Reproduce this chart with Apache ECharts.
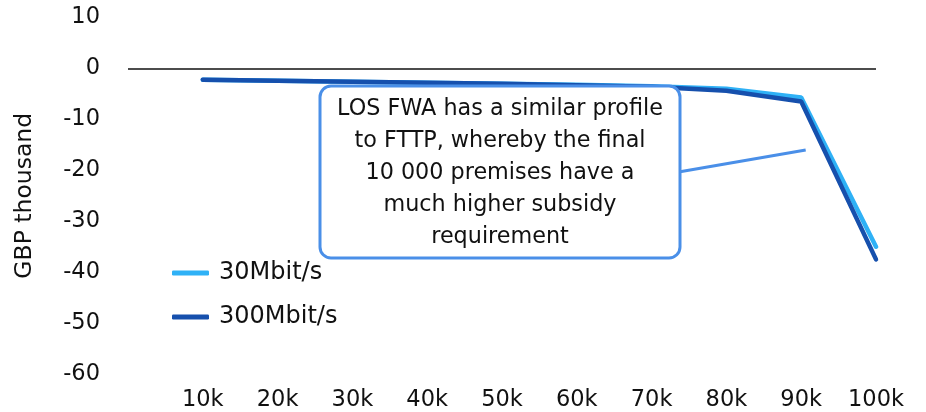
<!DOCTYPE html>
<html>
<head>
<meta charset="utf-8">
<script src="https://cdn.jsdelivr.net/npm/echarts@6/dist/echarts.min.js"></script>
<style>
  html, body { margin: 0; padding: 0; background: #fff; }
  #chart { width: 926px; height: 412px; }
</style>
</head>
<body>
<div id="chart"></div>
<script>
// premises covered (thousands)
const premises = [10, 20, 30, 40, 50, 60, 70, 80, 90, 100];
// subsidy per step, GBP thousand
const fwa30 = [-2.2, -2.4, -2.6, -2.8, -3.0, -3.2, -3.5, -4.0, -5.7, -35.0];
const fwa300 = [-2.2, -2.4, -2.6, -2.8, -3.0, -3.3, -3.6, -4.4, -6.5, -37.5];
const seriesNames = ["30Mbit/s", "300Mbit/s"];
const noteText = "LOS FWA has a similar profile\nto FTTP, whereby the final\n10 000 premises have a\nmuch higher subsidy\nrequirement";

const font = "'DejaVu Sans', sans-serif";
const chart = echarts.init(document.getElementById("chart"));

const toPairs = (vals) => vals.map((v, i) => [premises[i], v]);

const option = {
  backgroundColor: "#fff",
  animation: false,
  grid: { left: 128, right: 50, top: 17.5, bottom: 37.5 },
  legend: {
    orient: "vertical",
    left: 167,
    top: 256,
    itemWidth: 37,
    itemHeight: 5,
    itemGap: 20,
    icon: "roundRect",
    textStyle: { fontFamily: font, fontSize: 24, color: "#111", padding: [0, 0, 0, 5] },
    data: seriesNames,
  },
  xAxis: {
    type: "value",
    min: 0,
    max: 100,
    interval: 10,
    axisLine: { show: false },
    axisTick: { show: false },
    splitLine: { show: false },
    axisLabel: {
      fontFamily: font,
      fontSize: 22.5,
      color: "#111",
      margin: 15,
      formatter: (v) => (v === 0 ? "" : v + "k"),
    },
  },
  yAxis: {
    type: "value",
    min: -60,
    max: 10,
    interval: 10,
    name: "GBP thousand",
    nameLocation: "middle",
    nameGap: 91,
    nameTextStyle: { fontFamily: font, fontSize: 23.5, color: "#111" },
    axisLine: { show: false },
    axisTick: { show: false },
    splitLine: { show: false },
    axisLabel: { fontFamily: font, fontSize: 22.5, color: "#111", margin: 28 },
  },
  series: [
    {
      name: seriesNames[0],
      type: "line",
      data: toPairs(fwa30),
      showSymbol: false,
      color: "#2fb1f6",
      lineStyle: { width: 4.5, cap: "round" },
      markLine: {
        silent: true,
        symbol: "none",
        label: { show: false },
        lineStyle: { color: "#111", width: 1.5, type: "solid" },
        data: [{ yAxis: 0 }],
      },
    },
    {
      name: seriesNames[1],
      type: "line",
      data: toPairs(fwa300),
      showSymbol: false,
      color: "#1650ad",
      lineStyle: { width: 4.5, cap: "round" },
      markLine: {
        silent: true,
        symbol: "none",
        label: { show: false },
        lineStyle: { color: "#4a8fe8", width: 3, type: "solid" },
        data: [[{ coord: [73.8, -20.3] }, { coord: [90.6, -16.0] }]],
      },
    },
  ],
  graphic: [
    {
      type: "rect",
      shape: { x: 320, y: 86, width: 360, height: 172, r: 11 },
      style: { fill: "#fff", stroke: "#4a8fe8", lineWidth: 3 },
      z: 100,
    },
    {
      type: "text",
      x: 500,
      y: 173,
      z: 101,
      style: {
        text: noteText,
        fontFamily: font,
        fontSize: 22.3,
        lineHeight: 32,
        fill: "#111",
        align: "center",
        verticalAlign: "middle",
      },
    },
  ],
};

chart.setOption(option);
</script>
</body>
</html>
